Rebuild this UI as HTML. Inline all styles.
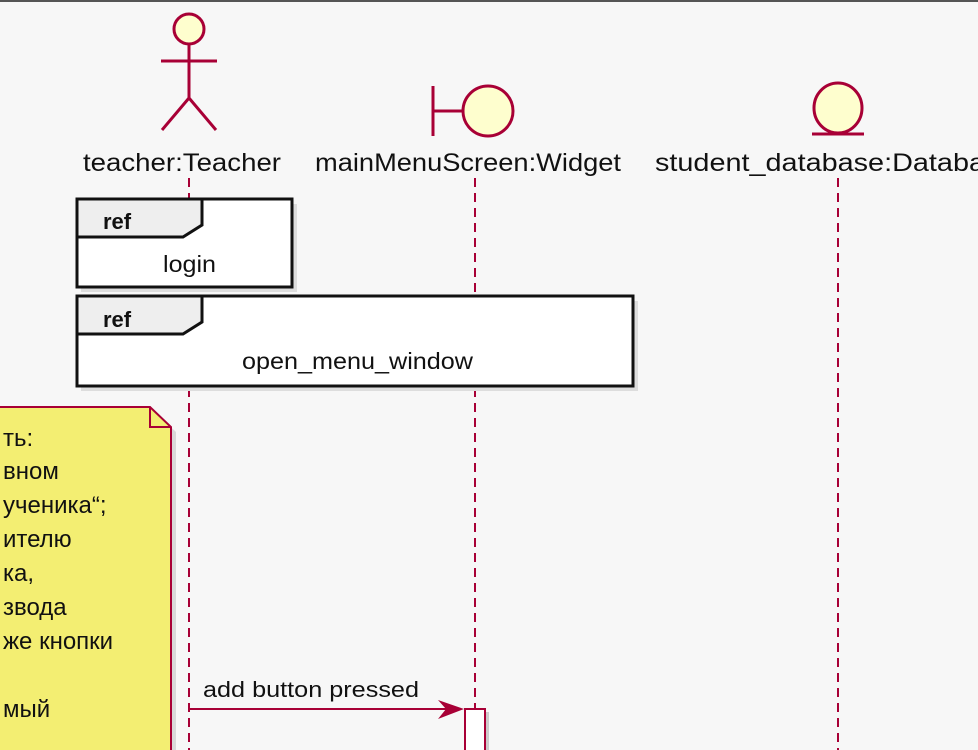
<!DOCTYPE html>
<html><head><meta charset="utf-8"><style>
html,body{margin:0;padding:0;background:#f7f7f7;}
svg{display:block;}
text{font-family:"Liberation Sans","DejaVu Sans",sans-serif;}
</style></head><body>
<svg width="978" height="750" viewBox="0 0 978 750" xmlns="http://www.w3.org/2000/svg">
<rect x="0" y="0" width="978" height="750" fill="#f7f7f7"/>
<line x1="0" y1="1" x2="978" y2="1" stroke="#555" stroke-width="2"/>
<g stroke="#a80036" stroke-width="2" stroke-dasharray="9,6">
<line x1="189" y1="178" x2="189" y2="750"/>
<line x1="475" y1="178" x2="475" y2="709"/>
<line x1="838" y1="178" x2="838" y2="750"/>
</g>
<g stroke="#a80036" stroke-width="3" fill="none">
<circle cx="189" cy="29" r="15" fill="#fefece"/>
<line x1="189" y1="44" x2="189" y2="98"/>
<line x1="161" y1="61" x2="217" y2="61"/>
<line x1="189" y1="98" x2="162" y2="130"/>
<line x1="189" y1="98" x2="216" y2="130"/>
</g>
<g stroke="#a80036" stroke-width="3">
<line x1="433" y1="86" x2="433" y2="136"/>
<line x1="433" y1="111" x2="463" y2="111"/>
<circle cx="488" cy="111" r="25" fill="#fefece"/>
</g>
<g stroke="#a80036" stroke-width="3">
<ellipse cx="838" cy="108" rx="24" ry="25" fill="#fefece"/>
<line x1="812" y1="134" x2="864" y2="134"/>
</g>
<g font-size="25" fill="#111">
<text x="83" y="171" textLength="198" lengthAdjust="spacingAndGlyphs">teacher:Teacher</text>
<text x="315" y="171" textLength="306" lengthAdjust="spacingAndGlyphs">mainMenuScreen:Widget</text>
<text x="655" y="171" textLength="330" lengthAdjust="spacingAndGlyphs">student_database:Databa</text>
</g>
<rect x="81" y="204" width="216" height="88" fill="#ddd"/>
<rect x="77" y="199" width="215" height="88" fill="#fff" stroke="#111" stroke-width="3"/>
<path d="M77 199 H202 V225 L183 237 H77 Z" fill="#eee" stroke="#111" stroke-width="3"/>
<text x="103" y="229" font-size="22" font-weight="bold" fill="#111">ref</text>
<text x="163" y="272" font-size="23" fill="#111" textLength="53" lengthAdjust="spacingAndGlyphs">login</text>
<rect x="81" y="301" width="557" height="90" fill="#ddd"/>
<rect x="77" y="296" width="556" height="90" fill="#fff" stroke="#111" stroke-width="3"/>
<path d="M77 296 H202 V322 L183 334 H77 Z" fill="#eee" stroke="#111" stroke-width="3"/>
<text x="103" y="327" font-size="22" font-weight="bold" fill="#111">ref</text>
<text x="242" y="369" font-size="23" fill="#111" textLength="231" lengthAdjust="spacingAndGlyphs">open_menu_window</text>
<path d="M0 412 H155 L176 432 V750 H0 Z" fill="#ccc" opacity="0.7"/>
<path d="M-5 407 H150 L171 427 V755 H-5 Z" fill="#f3ee72" stroke="#a80036" stroke-width="2"/>
<path d="M150 407 V427 H171" fill="none" stroke="#a80036" stroke-width="2"/>
<g font-size="24" fill="#111">
<text x="3" y="446">ть:</text>
<text x="3" y="479">вном</text>
<text x="3" y="513">ученика“;</text>
<text x="3" y="547">ителю</text>
<text x="3" y="581">ка,</text>
<text x="3" y="615">звода</text>
<text x="3" y="649">же кнопки</text>
<text x="3" y="717">мый</text>
</g>
<line x1="189" y1="709" x2="460" y2="709" stroke="#a80036" stroke-width="2"/>
<path d="M464 709 L438 700 L446 709 L438 719 Z" fill="#a80036"/>
<text x="203" y="697" font-size="22" fill="#111" textLength="216" lengthAdjust="spacingAndGlyphs">add button pressed</text>
<rect x="468" y="712" width="21" height="45" fill="#ccc"/>
<rect x="465" y="709" width="20" height="45" fill="#fff" stroke="#a80036" stroke-width="2"/>
</svg>
</body></html>
